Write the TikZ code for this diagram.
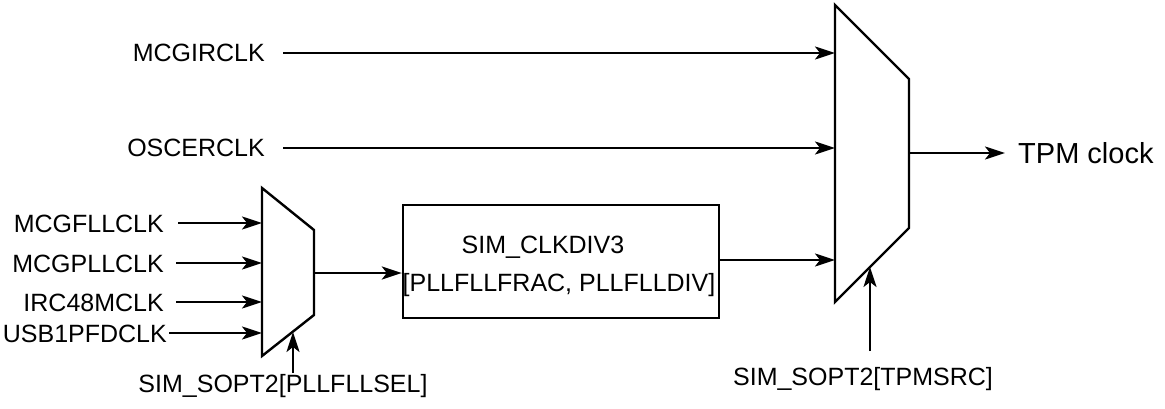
\documentclass[tikz,border=0pt]{standalone}
\usepackage{fontspec}
\setmainfont{Liberation Sans}
\usetikzlibrary{arrows.meta}
\begin{document}
\begin{tikzpicture}[x=1pt,y=-1pt,
  wire/.style={line width=2.4pt,-{Stealth[length=20pt,width=13pt,inset=5pt]}},
  muxshape/.style={line width=2.4pt,line join=miter},
  lbl/.style={inner sep=0pt,font=\fontsize{25}{30}\selectfont,text height=18pt,text depth=0pt},
  blbl/.style={inner sep=0pt,font=\fontsize{25}{30}\selectfont},
  boxstyle/.style={draw,line width=2.4pt,inner sep=0pt,minimum width=316pt,minimum height=113pt}]
\useasboundingbox (0,0) rectangle (1165,409);
% big mux
\draw[muxshape] (835,5) -- (909,79) -- (909,228) -- (835,302) -- cycle;
\coordinate (bi1) at (835,53);
\coordinate (bi2) at (835,148);
\coordinate (bi3) at (835,260);
\coordinate (bsel) at (870,267);
\coordinate (bout) at (909,153);
% small mux
\draw[muxshape] (262,188) -- (314,230) -- (314,315) -- (262,356) -- cycle;
\coordinate (si1) at (262,223);
\coordinate (si2) at (262,263);
\coordinate (si3) at (262,302);
\coordinate (si4) at (262,333);
\coordinate (ssel) at (293,332);
\coordinate (sout) at (314,273);
% divider box
\node[boxstyle] (div) at (561,261.5) {};
\node[blbl] (t1) at (543,247) {SIM\_CLKDIV3};
\node[blbl] (t2) at (559,285) {[PLLFLLFRAC, PLLFLLDIV]};
% labels
\node[lbl,anchor=east] (mcgir) at (265,53) {MCGIRCLK};
\node[lbl,anchor=east] (oscer) at (265,148) {OSCERCLK};
\node[lbl,anchor=east] (fll) at (164,223) {MCGFLLCLK};
\node[lbl,anchor=east] (pll) at (164,263) {MCGPLLCLK};
\node[lbl,anchor=east] (irc) at (164,302) {IRC48MCLK};
\node[lbl,anchor=east] (usb) at (167,333) {USB1PFDCLK};
\node[inner sep=0pt,font=\fontsize{29}{34}\selectfont,text height=21pt,text depth=0pt,anchor=west] (tpm) at (1018,153) {TPM clock};
\node[blbl] (selsm) at (283,386) {SIM\_SOPT2[PLLFLLSEL]};
\node[blbl] (selbg) at (863,379) {SIM\_SOPT2[TPMSRC]};
\coordinate (s1start) at (293,373);
\coordinate (s2start) at (870,351);
% connectors
\draw[wire] ([xshift=18pt]mcgir.east) -- (bi1);
\draw[wire] ([xshift=18pt]oscer.east) -- (bi2);
\draw[wire] (div.east |- bi3) -- (bi3);
\draw[wire] (bout) -- ([xshift=-13pt]tpm.west);
\draw[wire] (s2start) -- (bsel);
\draw[wire] ([xshift=14pt]fll.east) -- (si1);
\draw[wire] ([xshift=12pt]pll.east) -- (si2);
\draw[wire] ([xshift=12pt]irc.east) -- (si3);
\draw[wire] ([xshift=2pt]usb.east) -- (si4);
\draw[wire] (sout) -- (div.west |- sout);
\draw[wire] (s1start) -- (ssel);
\end{tikzpicture}
\end{document}
